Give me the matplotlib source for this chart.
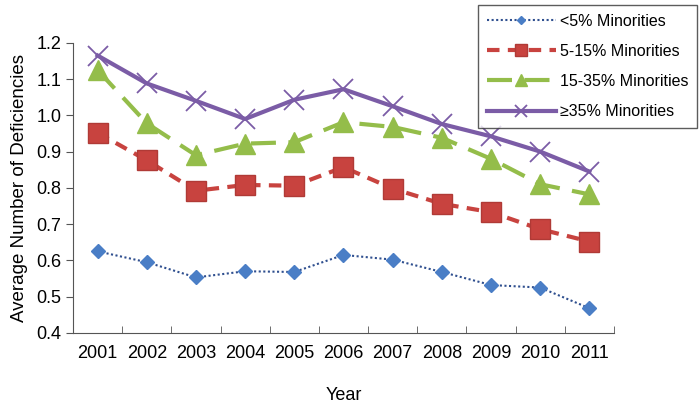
import matplotlib.pyplot as plt

plt.rcParams['font.family'] = ['Liberation Sans', 'DejaVu Sans']

years = ["2001", "2002", "2003", "2004", "2005", "2006", "2007", "2008", "2009", "2010", "2011"]
lt5 = [0.625, 0.595, 0.553, 0.570, 0.568, 0.615, 0.602, 0.568, 0.532, 0.525, 0.468]
p5_15 = [0.952, 0.876, 0.792, 0.808, 0.806, 0.857, 0.798, 0.756, 0.733, 0.686, 0.652]
p15_35 = [1.125, 0.978, 0.890, 0.922, 0.926, 0.981, 0.968, 0.938, 0.880, 0.810, 0.782]
ge35 = [1.165, 1.088, 1.040, 0.990, 1.043, 1.072, 1.025, 0.976, 0.942, 0.900, 0.845]

fig = plt.figure(figsize=(6.99, 4.04), dpi=100)
ax = fig.add_axes([0.1044, 0.176, 0.774, 0.718])

x = list(range(len(years)))
ax.plot(x, lt5, color='#2F4F8F', linestyle=(0, (1, 1.2)), lw=1.5,
        marker='D', markersize=7, markerfacecolor='#4A7EC6', markeredgecolor='#4A7EC6',
        label='<5% Minorities')
ax.plot(x, p5_15, color='#C8433F', linestyle=(0, (3, 2)), lw=3,
        marker='s', markersize=14, markerfacecolor='#C8433F', markeredgecolor='#B03A36',
        label='5-15% Minorities')
ax.plot(x, p15_35, color='#94BD4A', linestyle=(0, (6, 3)), lw=3,
        marker='^', markersize=15, markerfacecolor='#94BD4A', markeredgecolor='#94BD4A',
        label='15-35% Minorities')
ax.plot(x, ge35, color='#7B5CA6', linestyle='-', lw=3,
        marker='x', markersize=15, markeredgewidth=1.3, markeredgecolor='#7B5CA6',
        label='\u226535% Minorities')

ax.set_xlim(-0.5, len(years) - 0.5)
ax.set_ylim(0.4, 1.2)
ax.set_yticks([0.4, 0.5, 0.6, 0.7, 0.8, 0.9, 1.0, 1.1, 1.2])
ax.set_yticklabels(['0.4', '0.5', '0.6', '0.7', '0.8', '0.9', '1.0', '1.1', '1.2'])
ax.set_xticks(x)
ax.set_xticklabels(years)
ax.set_xticks([i - 0.5 for i in range(len(years) + 1)], minor=True)
ax.tick_params(axis='x', which='major', length=0, labelsize=13, pad=9)
ax.tick_params(axis='x', which='minor', direction='in', length=5, color='#555555')
ax.tick_params(axis='y', direction='out', length=5, labelsize=13, color='#555555')

for s in ['top', 'right']:
    ax.spines[s].set_visible(False)
for s in ['left', 'bottom']:
    ax.spines[s].set_color('#555555')

ax.set_xlabel('Year', fontsize=13, labelpad=18)
ax.set_ylabel('Average Number of Deficiencies', fontsize=13.5, labelpad=6)

leg = fig.legend(loc='upper right', bbox_to_anchor=(0.997, 0.988),
                 fontsize=11.5, frameon=True, fancybox=False, handlelength=4.3,
                 labelspacing=0.95, borderpad=0.55, handletextpad=0.25, borderaxespad=0,
                 markerscale=0.6)
leg.get_frame().set_edgecolor('#333333')
leg.get_frame().set_linewidth(1.0)

fig.savefig('out.png', dpi=100)
